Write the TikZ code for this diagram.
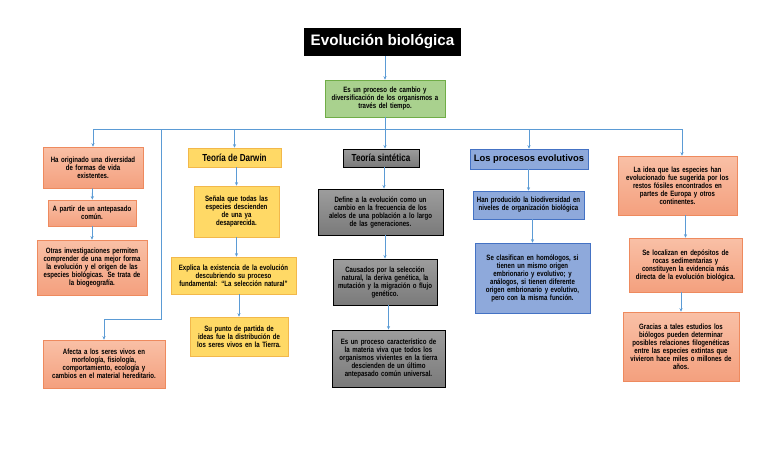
\documentclass[tikz,border=0pt]{standalone}
\usepackage{fontspec}
\setmainfont{Liberation Sans}
\newfontfamily\angosta[FakeStretch=0.79]{Liberation Sans}
\usetikzlibrary{arrows.meta}

\definecolor{salmonborde}{HTML}{EE8A5E}
\definecolor{salmonarriba}{HTML}{F9C0A6}
\definecolor{salmonabajo}{HTML}{F4A07E}
\definecolor{amarillo}{HTML}{FFD966}
\definecolor{amarilloborde}{HTML}{F2B84B}
\definecolor{grisarriba}{HTML}{9D9D9D}
\definecolor{grisabajo}{HTML}{7A7A7A}
\definecolor{azul}{HTML}{8EA9DB}
\definecolor{azulborde}{HTML}{4472C4}
\definecolor{verde}{HTML}{A9D18E}
\definecolor{verdeborde}{HTML}{70AD47}
\definecolor{conector}{HTML}{5B9BD5}

\begin{document}
\begin{tikzpicture}[x=1pt, y=-1pt, >={Stealth[length=3.5pt, width=3.2pt]}]
    % Define styles
    \tikzstyle{caja}=[draw, line width=0.7pt, align=center, inner sep=1pt, font=\angosta\bfseries\fontsize{7.7}{8}\selectfont]
    \tikzstyle{salmon}=[caja, draw=salmonborde, top color=salmonarriba, bottom color=salmonabajo]
    \tikzstyle{darwin}=[caja, draw=amarilloborde, fill=amarillo]
    \tikzstyle{sintesis}=[caja, draw=black, line width=0.9pt, top color=grisarriba, bottom color=grisabajo]
    \tikzstyle{procesos}=[caja, draw=azulborde, fill=azul]
    \tikzstyle{encabezado}=[font=\angosta\bfseries\fontsize{10.2}{11}\selectfont]
    \tikzstyle{flecha}=[draw=conector, line width=0.9pt]

    \useasboundingbox (0,0) rectangle (768,466);

    % Title and definition
    \node[fill=black, text=white, minimum width=157pt, minimum height=28pt, font=\bfseries\fontsize{15.2}{17}\selectfont] (titulo) at (382.5,42) {Evolución biológica};
    \node[caja, draw=verdeborde, fill=verde, minimum width=120pt, minimum height=37pt, text width=116pt] (intro) at (385,98.5) {Es un proceso de cambio y\\ diversificación de los organismos a\\ través del tiempo.};

    % Left column
    \node[salmon, minimum width=100pt, minimum height=41pt, text width=96pt] (origen) at (93,167.5) {Ha originado una diversidad\\ de formas de vida\\ existentes.};
    \node[salmon, minimum width=88pt, minimum height=26pt, text width=86pt] (antepasado) at (92,213) {A partir de un antepasado\\ común.};
    \node[salmon, minimum width=110pt, minimum height=55pt, text width=108pt] (biogeo) at (92,267.5) {Otras investigaciones permiten\\ comprender de una mejor forma\\ la evolución y el origen de las\\ especies biológicas. Se trata de\\ la biogeografía.};
    \node[salmon, minimum width=122pt, minimum height=48pt, text width=120pt] (afecta) at (104,364) {Afecta a los seres vivos en\\ morfología, fisiología,\\ comportamiento, ecología y\\ cambios en el material hereditario.};

    % Darwin column
    \node[darwin, encabezado, minimum width=93pt, minimum height=19pt] (teoriaD) at (234.5,157.5) {Teoría de Darwin};
    \node[darwin, minimum width=85pt, minimum height=51pt, text width=83pt] (senala) at (236.5,211.5) {Señala que todas las\\ especies descienden\\ de una ya\\ desaparecida.};
    \node[darwin, minimum width=125pt, minimum height=37pt, text width=123pt] (explica) at (233.5,275.5) {Explica la existencia de la evolución\\ descubriendo su proceso\\ fundamental: “La selección natural”};
    \node[darwin, minimum width=98pt, minimum height=39pt, text width=96pt] (partida) at (239,336.5) {Su punto de partida de\\ ideas fue la distribución de\\ los seres vivos en la Tierra.};

    % Synthetic theory column
    \node[sintesis, encabezado, minimum width=76pt, minimum height=18pt] (teoriaS) at (381,158) {Teoría sintética};
    \node[sintesis, minimum width=125pt, minimum height=46pt, text width=123pt] (define) at (380.5,212) {Define a la evolución como un\\ cambio en la frecuencia de los\\ alelos de una población a lo largo\\ de las generaciones.};
    \node[sintesis, minimum width=104pt, minimum height=46pt, text width=102pt] (causados) at (385,282) {Causados por la selección\\ natural, la deriva genética, la\\ mutación y la migración o flujo\\ genético.};
    \node[sintesis, minimum width=113pt, minimum height=57pt, text width=111pt] (caracter) at (388.5,358.5) {Es un proceso característico de\\ la materia viva que todos los\\ organismos vivientes en la tierra\\ descienden de un último\\ antepasado común universal.};

    % Evolutionary processes column
    \node[procesos, font=\bfseries\fontsize{9.4}{10.5}\selectfont, minimum width=118pt, minimum height=20pt] (procesos) at (529,159) {Los procesos evolutivos};
    \node[procesos, minimum width=111pt, minimum height=28pt, text width=109pt] (biodiv) at (528.5,205) {Han producido la biodiversidad en\\ niveles de organización biológica};
    \node[procesos, minimum width=115pt, minimum height=70pt, text width=113pt] (homologos) at (532.5,278) {Se clasifican en homólogos, si\\ tienen un mismo origen\\ embrionario y evolutivo; y\\ análogos, si tienen diferente\\ origen embrionario y evolutivo,\\ pero con la misma función.};

    % Right column
    \node[salmon, minimum width=119pt, minimum height=59pt, text width=117pt] (fosiles) at (677.5,185.5) {La idea que las especies han\\ evolucionado fue sugerida por los\\ restos fósiles encontrados en\\ partes de Europa y otros\\ continentes.};
    \node[salmon, minimum width=113pt, minimum height=54pt, text width=111pt] (depositos) at (685.5,265) {Se localizan en depósitos de\\ rocas sedimentarias y\\ constituyen la evidencia más\\ directa de la evolución biológica.};
    \node[salmon, minimum width=116pt, minimum height=69pt, text width=114pt] (gracias) at (681,346.5) {Gracias a tales estudios los\\ biólogos pueden determinar\\ posibles relaciones filogenéticas\\ entre las especies extintas que\\ vivieron hace miles o millones de\\ años.};

    % Bus line under the definition
    \coordinate (busizq) at (93,129);
    \coordinate (busder) at (682,129);
    \coordinate (bajada) at (161,129);
    \coordinate (codo) at (161,319);

    \draw[flecha, ->] (titulo.south -| intro) -- (intro);
    \draw[flecha] (busizq) -- (busder);
    \draw[flecha] (intro) -- (intro |- busizq);

    % Branches from the bus
    \draw[flecha, ->] (busizq) -- (origen);
    \draw[flecha, ->] (bajada) -- (codo) -| (afecta.north);
    \draw[flecha, ->] (teoriaD.north |- busizq) -- (teoriaD.north);
    \draw[flecha, ->] (intro.south |- busizq) -- (intro.south |- teoriaS.north);
    \draw[flecha, ->] (procesos.north |- busizq) -- (procesos.north);
    \draw[flecha, ->] (busder) -- (busder |- fosiles.north);

    % Arrows inside the columns
    \draw[flecha, ->] (origen) -- (antepasado);
    \draw[flecha, ->] (antepasado) -- (biogeo);
    \draw[flecha, ->] (teoriaD.south -| senala) -- (senala);
    \draw[flecha, ->] (senala) -- (senala |- explica.north);
    \draw[flecha, ->] (explica.south -| partida) -- (partida);
    \draw[flecha, ->] (teoriaS.south -| 384,0) -- (define.north -| 384,0);
    \draw[flecha, ->] (define.south -| causados) -- (causados);
    \draw[flecha, ->] (causados.south -| caracter) -- (caracter);
    \draw[flecha, ->] (procesos.south -| biodiv) -- (biodiv);
    \draw[flecha, ->] (biodiv.south -| homologos) -- (homologos);
    \draw[flecha, ->] (fosiles.south -| depositos) -- (depositos);
    \draw[flecha, ->] (depositos.south -| gracias) -- (gracias);
\end{tikzpicture}
\end{document}
